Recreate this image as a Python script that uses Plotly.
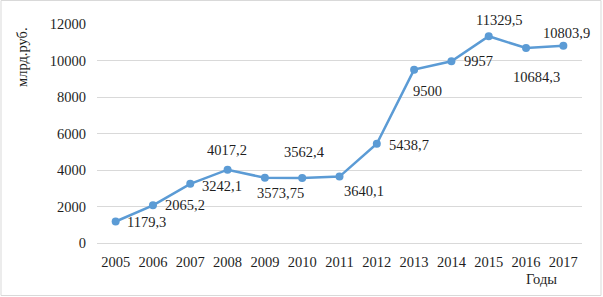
import plotly.graph_objects as go

years = [2005, 2006, 2007, 2008, 2009, 2010, 2011, 2012,
         2013, 2014, 2015, 2016, 2017]
values = [1179.3, 2065.2, 3242.1, 4017.2, 3573.75, 3562.4, 3640.1, 5438.7,
          9500, 9957, 11329.5, 10684.3, 10803.9]
y_ticks = [0, 2000, 4000, 6000, 8000, 10000, 12000]
y_title = "млрд.руб."
x_title = "Годы"

# label placement (anchor, xshift, yshift in px)
label_pos = [("left", 9, -1), ("left", 10, 0), ("left", 10, -2), ("center", -1, 20),
             ("center", 16, -15), ("center", 2, 26), ("center", 24, -14), ("left", 10, -1),
             ("center", 13, -21), ("left", 11, 0), ("center", 11, 16), ("center", 10, -29),
             ("center", 3, 13)]

FONT = "Liberation Serif, Times New Roman, serif"
COLOR = "#5B9BD5"
TXT = "#1f1f1f"
FS = 14.5

fig = go.Figure()
fig.add_trace(go.Scatter(
    x=years, y=values, mode="lines+markers",
    line=dict(color=COLOR, width=2.5),
    marker=dict(color=COLOR, size=8),
    hoverinfo="skip", showlegend=False,
))

annotations = []
for yr, v, (anc, dx, dy) in zip(years, values, label_pos):
    annotations.append(dict(
        x=yr, y=v, xref="x", yref="y", text=f"{v:g}".replace(".", ","),
        showarrow=False, xanchor=anc, yanchor="middle", xshift=dx, yshift=dy,
        font=dict(family=FONT, size=FS, color=TXT),
    ))

L, R, T, B = 97, 21, 24, 54
PW = 603 - L - R
PH = 297 - T - B

def px_x(px):
    return (px - L) / PW

def px_y(py):
    return (297 - B - py) / PH

annotations.append(dict(
    x=px_x(22), y=px_y(57), xref="paper", yref="paper", text=y_title,
    showarrow=False, textangle=-90, xanchor="center", yanchor="middle",
    font=dict(family=FONT, size=FS, color=TXT),
))
annotations.append(dict(
    x=px_x(541), y=px_y(279), xref="paper", yref="paper", text=x_title,
    showarrow=False, xanchor="center", yanchor="middle",
    font=dict(family=FONT, size=FS, color=TXT),
))

fig.update_layout(
    width=603, height=297,
    margin=dict(l=L, r=R, t=T, b=B),
    paper_bgcolor="white", plot_bgcolor="white",
    font=dict(family=FONT, size=FS, color=TXT),
    annotations=annotations,
    shapes=[dict(
        type="rect", xref="paper", yref="paper",
        x0=px_x(1), x1=px_x(601), y0=px_y(295.5), y1=px_y(0.5),
        line=dict(color="#D9D9D9", width=1), fillcolor="rgba(0,0,0,0)",
        layer="below",
    )],
)
fig.update_xaxes(
    type="linear", range=[years[0] - 0.5, years[-1] + 0.5],
    tickvals=years, ticktext=[str(y) for y in years],
    showgrid=False, showline=False, zeroline=False,
    ticks="", tickfont=dict(family=FONT, size=FS, color=TXT),
    ticklabelstandoff=8,
)
fig.update_yaxes(
    range=[0, 12000], tickvals=y_ticks, ticktext=[str(t) for t in y_ticks],
    showgrid=True, gridcolor="#D9D9D9", gridwidth=1, zeroline=True,
    zerolinecolor="#D9D9D9", zerolinewidth=1, showline=False, ticks="",
    tickfont=dict(family=FONT, size=FS, color=TXT),
    ticklabelstandoff=10,
)

fig.write_html(
    "out.html",
    config={"displayModeBar": False, "staticPlot": True},
    post_script="document.body.style.margin='0';document.body.style.overflow='hidden';",
)
